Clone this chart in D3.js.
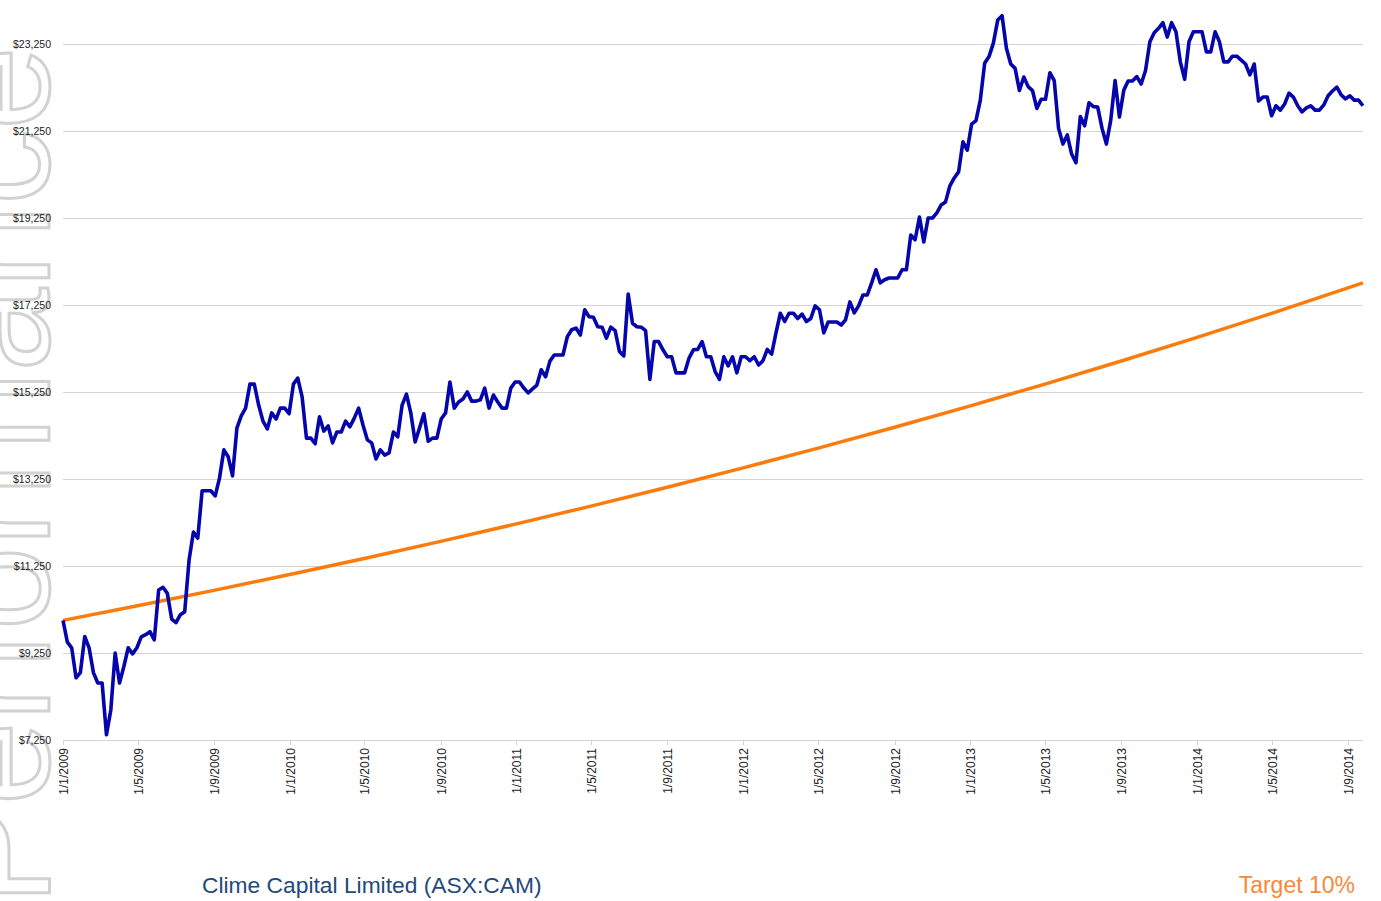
<!DOCTYPE html>
<html>
<head>
<meta charset="utf-8">
<script src="https://cdn.jsdelivr.net/npm/d3@7"></script>
<style>
  body { margin: 0; background: #fff; }
  svg { display: block; }
</style>
</head>
<body>
<svg id="chart" width="1381" height="901"></svg>
<script>
// weekly portfolio value, starting 1/1/2009
const startDate = new Date(2009, 0, 1);
const camValues = [
  10000, 9500, 9370, 8680, 8800, 9630, 9370, 8800, 8560, 8560,
  7370, 7940, 9250, 8560, 8940, 9370, 9230, 9370, 9620, 9670,
  9740, 9550, 10700, 10760, 10620, 10030, 9950, 10130, 10200,
  11390, 12030, 11890, 12980, 12980, 12980, 12860, 13270, 13920, 13760,
  13320, 14420, 14700, 14880, 15430, 15430, 14950, 14580, 14400, 14770,
  14630, 14880, 14880, 14750, 15430, 15570, 15140, 14190, 14190, 14060,
  14680, 14350, 14470, 14080, 14330, 14330, 14580, 14450, 14650, 14880,
  14490, 14150, 14080, 13710, 13920, 13800, 13850, 14330, 14220, 14950,
  15200, 14770, 14100, 14420, 14750, 14120, 14190, 14190, 14630, 14770,
  15480, 14880, 15020, 15090, 15250, 15040, 15040, 15070, 15340, 14880,
  15180, 15020, 14880, 14880, 15340, 15480, 15480, 15340, 15230, 15320,
  15410, 15760, 15600, 15960, 16100, 16100,
  16100, 16520, 16680, 16720, 16560, 17140, 16980, 16970, 16750, 16740,
  16490, 16740, 16660, 16180, 16080, 17500, 16830, 16750, 16740, 16660,
  15540, 16410, 16410, 16220, 16060, 16060, 15690, 15690, 15690, 16030,
  16220, 16230, 16410, 16060, 16060, 15720, 15540, 16060, 15850, 16060,
  15690, 16060, 16060, 15970, 16060, 15870, 15970, 16230, 16120, 16610,
  17060, 16870, 17060, 17060, 16940, 17040, 16870, 16940, 17230, 17140,
  16610, 16860, 16860, 16860, 16790, 16910, 17320, 17070, 17230, 17480,
  17480, 17760, 18060, 17760, 17830, 17870, 17870, 17870, 18060, 18060,
  18860, 18750, 19270, 18700, 19250, 19250, 19370, 19550, 19620, 19990,
  20170, 20310,
  21000, 20810, 21410, 21490, 21960, 22810, 22960, 23270, 23800, 23900,
  23150, 22790, 22690, 22180, 22490, 22270, 22180, 21770, 21980, 21980,
  22590, 22410, 21310, 20950, 21160, 20720, 20520, 21580, 21370, 21900,
  21810, 21800, 21310, 20950, 21500, 22410, 21570, 22190, 22400, 22400,
  22500, 22330, 22640, 23300, 23510, 23610, 23740, 23410, 23740, 23530,
  22840, 22440, 23300, 23530, 23530, 23530, 23070, 23070, 23530, 23300,
  22840, 22840, 22970, 22970, 22880, 22790, 22540, 22790, 21940, 22030,
  22030, 21600, 21830, 21730, 21870, 22120, 22030, 21830, 21690, 21780,
  21830, 21730, 21730, 21850, 22060, 22170, 22260, 22080, 21990, 22060,
  21960, 21960, 21830
];

// 10% target line, read at each axis date
const targetDates = ["1/1/2009", "1/5/2009", "1/9/2009", "1/1/2010", "1/5/2010", "1/9/2010",
  "1/1/2011", "1/5/2011", "1/9/2011", "1/1/2012", "1/5/2012", "1/9/2012",
  "1/1/2013", "1/5/2013", "1/9/2013", "1/1/2014", "1/5/2014", "1/9/2014", "25/9/2014"];
const targetValues = [10000, 10335, 10690, 11054, 11424, 11816,
  12218, 12627, 13061, 13505, 13961, 14441,
  14932, 15432, 15962, 16506, 17058, 17644, 17760];

const xTickLabels = ["1/1/2009", "1/5/2009", "1/9/2009", "1/1/2010", "1/5/2010", "1/9/2010",
  "1/1/2011", "1/5/2011", "1/9/2011", "1/1/2012", "1/5/2012", "1/9/2012",
  "1/1/2013", "1/5/2013", "1/9/2013", "1/1/2014", "1/5/2014", "1/9/2014"];
const yTicks = [7250, 9250, 11250, 13250, 15250, 17250, 19250, 21250, 23250];

const parseDmy = d3.timeParse("%d/%m/%Y");

const svg = d3.select("#chart");

// faint outlined lettering running down the left edge (decorative, partly off-page)
svg.append("text")
    .attr("transform", "translate(49,905) rotate(-90)")
    .style("font-family", "'Helvetica Neue', Helvetica, Arial, 'Liberation Sans', sans-serif")
    .style("font-size", "150px")
    .style("fill", "none")
    .style("stroke", "#d2d2d2")
    .style("stroke-width", 3)
    .text("Performance");

const x = d3.scaleTime()
    .domain([parseDmy("1/1/2009"), parseDmy("1/9/2014")])
    .range([63, 1348]);

const y = d3.scaleLinear()
    .domain([7250, 23250])
    .range([740, 44]);

const plotRight = 1363;

// horizontal gridlines
svg.append("g")
    .selectAll("line")
    .data(yTicks)
    .enter()
    .append("line")
    .attr("x1", 63)
    .attr("x2", plotRight)
    .attr("y1", d => Math.round(y(d)) + 0.5)
    .attr("y2", d => Math.round(y(d)) + 0.5)
    .style("stroke", "#d4d4d4")
    .style("stroke-width", 1);

// y labels
svg.append("g")
    .selectAll("text")
    .data(yTicks)
    .enter()
    .append("text")
    .attr("x", 51)
    .attr("y", d => y(d))
    .attr("text-anchor", "end")
    .attr("dominant-baseline", "central")
    .style("font-family", "Helvetica, Arial, 'Liberation Sans', sans-serif")
    .style("font-size", "10.5px")
    .style("fill", "#222")
    .text(d => "$" + d3.format(",")(d));

// x ticks + labels
const xAxis = svg.append("g");
xTickLabels.forEach(lbl => {
    const px = Math.round(x(parseDmy(lbl))) + 0.5;
    xAxis.append("line")
        .attr("x1", px).attr("x2", px)
        .attr("y1", 740).attr("y2", 745)
        .style("stroke", "#d4d4d4");
    xAxis.append("text")
        .attr("transform", `translate(${px + 4},748) rotate(-90)`)
        .attr("text-anchor", "end")
        .style("font-family", "Helvetica, Arial, 'Liberation Sans', sans-serif")
        .style("font-size", "12px")
        .style("fill", "#222")
        .text(lbl);
});

const camData = camValues.map((v, i) => ({ date: d3.timeDay.offset(startDate, i * 7), value: v }));
const targetData = targetDates.map((d, i) => ({ date: parseDmy(d), value: targetValues[i] }));

svg.append("path")
    .datum(targetData)
    .attr("d", d3.line().x(d => x(d.date)).y(d => y(d.value)).curve(d3.curveMonotoneX))
    .style("fill", "none")
    .style("stroke", "#fb7c0c")
    .style("stroke-width", 3.5);

svg.append("path")
    .datum(camData)
    .attr("d", d3.line().x(d => x(d.date)).y(d => y(d.value)))
    .style("fill", "none")
    .style("stroke", "#0505ad")
    .style("stroke-width", 3.6)
    .style("stroke-linejoin", "round");

// legend captions
svg.append("text")
    .attr("x", 202)
    .attr("y", 893)
    .style("font-family", "'Helvetica Neue', Helvetica, Arial, 'Liberation Sans', sans-serif")
    .style("font-size", "22.8px")
    .style("fill", "#23497a")
    .text("Clime Capital Limited (ASX:CAM)");

svg.append("text")
    .attr("x", 1355)
    .attr("y", 893)
    .attr("text-anchor", "end")
    .style("font-family", "'Helvetica Neue', Helvetica, Arial, 'Liberation Sans', sans-serif")
    .style("font-size", "23px")
    .style("fill", "#f7893a")
    .text("Target 10%");
</script>
</body>
</html>
